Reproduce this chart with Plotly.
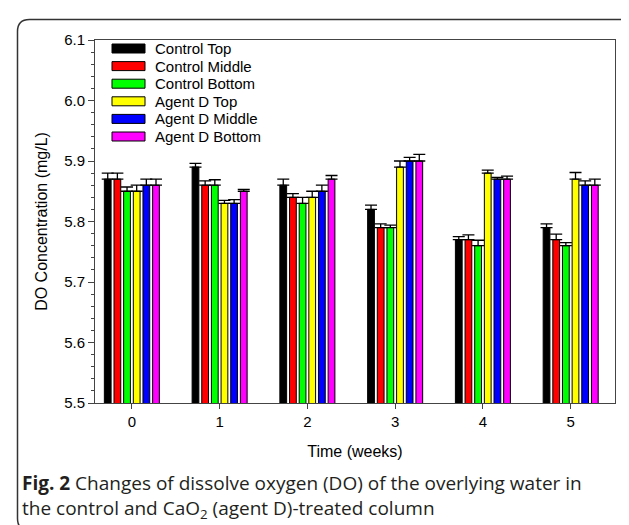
import plotly.graph_objects as go

weeks = [0, 1, 2, 3, 4, 5]
series_names = ["Control Top", "Control Middle", "Control Bottom",
                "Agent D Top", "Agent D Middle", "Agent D Bottom"]
series_colors = ["#000000", "#ff0000", "#00ff00", "#ffff00", "#0000ff", "#ff00ff"]

control_top = [5.87, 5.89, 5.86, 5.82, 5.77, 5.79]
control_middle = [5.87, 5.86, 5.84, 5.79, 5.77, 5.77]
control_bottom = [5.85, 5.86, 5.83, 5.79, 5.76, 5.76]
agent_top = [5.85, 5.83, 5.84, 5.89, 5.88, 5.87]
agent_middle = [5.86, 5.83, 5.85, 5.90, 5.87, 5.86]
agent_bottom = [5.86, 5.85, 5.87, 5.90, 5.87, 5.86]

err_control_top = [0.010, 0.006, 0.010, 0.007, 0.005, 0.006]
err_control_middle = [0.010, 0.007, 0.006, 0.006, 0.008, 0.009]
err_control_bottom = [0.007, 0.009, 0.010, 0.004, 0.009, 0.005]
err_agent_top = [0.010, 0.005, 0.010, 0.010, 0.005, 0.011]
err_agent_middle = [0.010, 0.006, 0.010, 0.006, 0.003, 0.007]
err_agent_bottom = [0.010, 0.003, 0.006, 0.011, 0.005, 0.010]

values = [control_top, control_middle, control_bottom, agent_top, agent_middle, agent_bottom]
errors = [err_control_top, err_control_middle, err_control_bottom,
          err_agent_top, err_agent_middle, err_agent_bottom]

y_ticks = [5.5, 5.6, 5.7, 5.8, 5.9, 6.0, 6.1]

W, H = 629, 525
L, R, T, B = 87, 607, 32, 395  # plot area in pixels


def px(x):
    return (x - L) / (R - L)


def py(y):
    return (B - y) / (B - T)


fig = go.Figure()
for name, col, vals, errs in zip(series_names, series_colors, values, errors):
    fig.add_trace(go.Bar(
        x=weeks, y=vals, name=name,
        marker=dict(color=col, line=dict(color="#000000", width=1)),
        error_y=dict(type="data", symmetric=False, array=errs,
                     arrayminus=[0] * len(errs), color="#000000",
                     thickness=1.3, width=6),
        showlegend=False,
    ))

shapes = []
annotations = []

# custom legend
row0, drow = 40.5, 17.6
for i, (name, col) in enumerate(zip(series_names, series_colors)):
    yc = row0 + i * drow
    shapes.append(dict(type="rect", xref="paper", yref="paper",
                       x0=px(104), x1=px(137), y0=py(yc + 4.5), y1=py(yc - 4.5),
                       fillcolor=col, line=dict(color="#000000", width=1)))
    annotations.append(dict(xref="paper", yref="paper", x=px(145), y=py(yc),
                            xanchor="left", yanchor="middle", showarrow=False,
                            text=name,
                            font=dict(family="Liberation Sans, Arial", size=15, color="#000000")))

# rounded outer frame
fl, ft, fr, fb, rad = 9.5, 11.5, 640, 522.5, 12
path = (f"M {px(fl)},{py(fb - rad)} L {px(fl)},{py(ft + rad)} "
        f"Q {px(fl)},{py(ft)} {px(fl + rad)},{py(ft)} "
        f"L {px(fr - rad)},{py(ft)} Q {px(fr)},{py(ft)} {px(fr)},{py(ft + rad)} "
        f"L {px(fr)},{py(fb - rad)} Q {px(fr)},{py(fb)} {px(fr - rad)},{py(fb)} "
        f"L {px(fl + rad)},{py(fb)} Q {px(fl)},{py(fb)} {px(fl)},{py(fb - rad)} Z")
shapes.append(dict(type="path", xref="paper", yref="paper", path=path,
                   line=dict(color="#333333", width=1.5), layer="below"))

# caption
cap_font = dict(family="Open Sans, Noto Sans", size=19, color="#231f20")
annotations.append(dict(xref="paper", yref="paper", x=px(12), y=py(475),
                        xanchor="left", yanchor="middle", showarrow=False,
                        text="<b>Fig. 2</b> Changes of dissolve oxygen (DO) of the overlying water in",
                        font=cap_font))
annotations.append(dict(xref="paper", yref="paper", x=px(12), y=py(501),
                        xanchor="left", yanchor="middle", showarrow=False,
                        text="the control and CaO<sub>2</sub> (agent D)-treated column",
                        font=cap_font))

axis_font = dict(family="Liberation Sans, Arial", size=15, color="#000000")
title_font = dict(family="Liberation Sans, Arial", size=16, color="#000000")

fig.update_layout(
    width=W, height=H,
    margin=dict(l=L, r=W - R, t=T, b=H - B, pad=0),
    paper_bgcolor="white", plot_bgcolor="white",
    barmode="group", bargap=0.34, bargroupgap=0.3,
    shapes=shapes, annotations=annotations,
    xaxis=dict(range=[-0.42, 5.505], tickmode="array", tickvals=weeks,
               ticktext=[str(w) for w in weeks],
               showgrid=False, zeroline=False,
               showline=True, linecolor="#444444", linewidth=1, mirror=True,
               ticks="outside", ticklen=5, tickcolor="#444444",
               tickfont=axis_font,
               title=dict(text="Time (weeks)", font=title_font, standoff=16)),
    yaxis=dict(range=[5.5, 6.1], tickmode="array", tickvals=y_ticks,
               ticktext=[f"{v:.1f}" for v in y_ticks],
               showgrid=False, zeroline=False,
               showline=True, linecolor="#444444", linewidth=1, mirror=True,
               ticks="outside", ticklen=6, tickcolor="#444444",
               minor=dict(dtick=0.02, tick0=5.5, ticks="outside", ticklen=3, tickcolor="#444444", showgrid=False),
               tickfont=axis_font,
               title=dict(text="DO Concentration (mg/L)", font=title_font, standoff=12)),
)

fig.write_html("out.html")
